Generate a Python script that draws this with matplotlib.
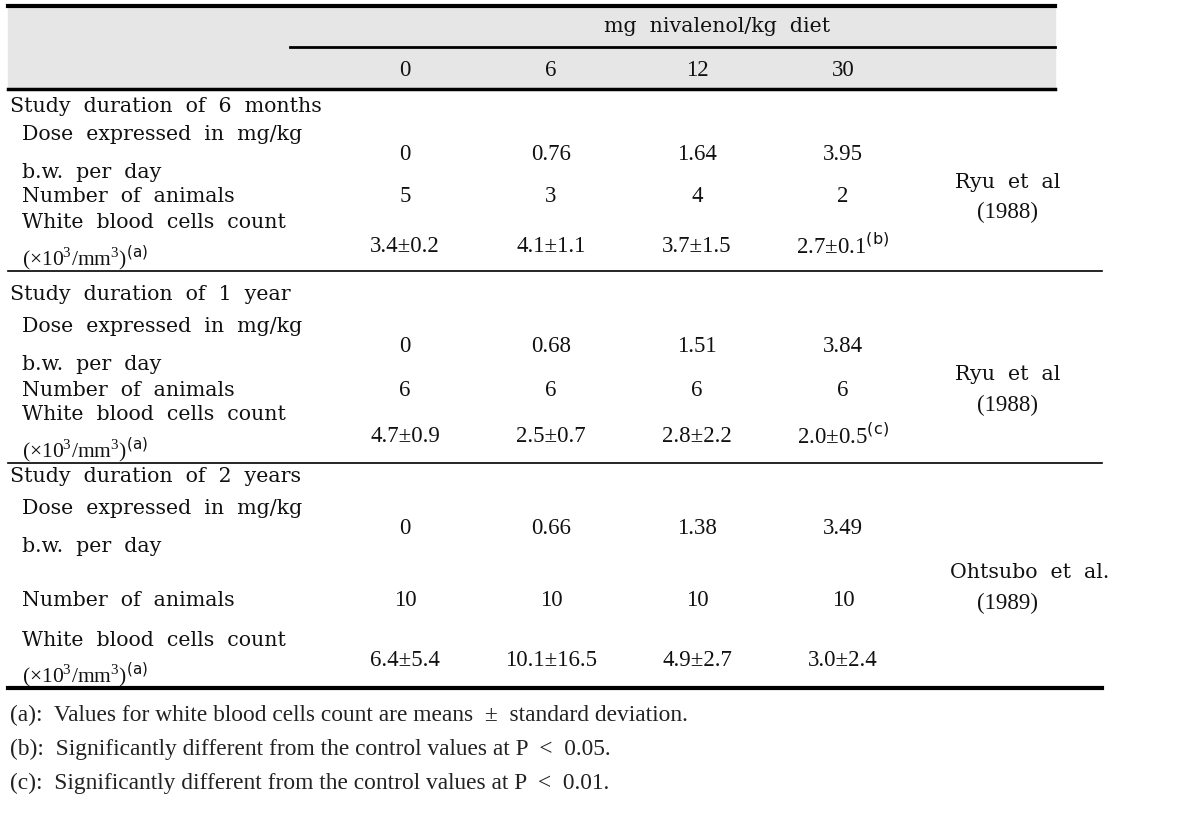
import matplotlib
matplotlib.use("Agg")
import matplotlib.pyplot as plt

# ─── table content ────────────────────────────────────────────────────────────

header_title = "mg  nivalenol/kg  diet"
diet_levels = ["0", "6", "12", "30"]

section_titles = [
    "Study  duration  of  6  months",
    "Study  duration  of  1  year",
    "Study  duration  of  2  years",
]
dose_bw = [
    ["0", "0.76", "1.64", "3.95"],
    ["0", "0.68", "1.51", "3.84"],
    ["0", "0.66", "1.38", "3.49"],
]
n_animals = [
    ["5", "3", "4", "2"],
    ["6", "6", "6", "6"],
    ["10", "10", "10", "10"],
]
wbc_count = [
    ["3.4±0.2", "4.1±1.1", "3.7±1.5", r"2.7±0.1$^{\mathsf{(b)}}$"],
    ["4.7±0.9", "2.5±0.7", "2.8±2.2", r"2.0±0.5$^{\mathsf{(c)}}$"],
    ["6.4±5.4", "10.1±16.5", "4.9±2.7", "3.0±2.4"],
]
references = [
    ("Ryu  et  al", "(1988)"),
    ("Ryu  et  al", "(1988)"),
    ("Ohtsubo  et  al.", "(1989)"),
]
footnotes = [
    "(a):  Values for white blood cells count are means  ±  standard deviation.",
    "(b):  Significantly different from the control values at P  <  0.05.",
    "(c):  Significantly different from the control values at P  <  0.01.",
]

# ─── layout (pixels, y grows downward) ────────────────────────────────────────

W, H = 1177, 818
col_x = [405, 551, 697, 843]
ref_x = [1008, 1008, 1030]
# title, dose label, bw label, dose vals, n row, wbc label, unit label, wbc vals, ref1, ref2, rule
rows = [
    [107, 135, 172, 154, 197, 222, 258, 246, 183, 212, 271],
    [294, 326, 364, 346, 390, 414, 450, 436, 375, 405, 463],
    [476, 508, 547, 528, 600, 640, 675, 660, 573, 603, 688],
]

plt.rcParams["mathtext.fontset"] = "custom"
plt.rcParams["mathtext.rm"] = "Liberation Serif"
plt.rcParams["mathtext.sf"] = "DejaVu Sans"

BODY = dict(family="DejaVu Serif", fontsize=14.8, color="#111111")
NUM = dict(family="Liberation Serif", fontsize=16.5, color="#111111")
FOOT = dict(family="Liberation Serif", fontsize=16.8, color="#222222")

fig = plt.figure(figsize=(W / 100, H / 100), dpi=100)
ax = fig.add_axes([0, 0, 1, 1])
ax.set_xlim(0, W)
ax.set_ylim(H, 0)
ax.axis("off")

# header band
ax.fill_between([8, 1055], 6, 89, color="#e6e6e6", zorder=0)
ax.plot([8, 1055], [6, 6], color="black", lw=3)
ax.plot([290, 1055], [47, 47], color="black", lw=2)
ax.plot([8, 1055], [89, 89], color="black", lw=2.5)
ax.text(717, 27, header_title, ha="center", va="center", **BODY)
for x, lvl in zip(col_x, diet_levels):
    ax.text(x, 70, lvl, ha="center", va="center", **NUM)

for i, r in enumerate(rows):
    ax.text(10, r[0], section_titles[i], ha="left", va="center", **BODY)
    ax.text(22, r[1], "Dose  expressed  in  mg/kg", ha="left", va="center", **BODY)
    ax.text(22, r[2], "b.w.  per  day", ha="left", va="center", **BODY)
    ax.text(22, r[4], "Number  of  animals", ha="left", va="center", **BODY)
    ax.text(22, r[5], "White  blood  cells  count", ha="left", va="center", **BODY)
    ax.text(22, r[6], r"(×10$^3$/mm$^3$)$^{\mathsf{(a)}}$", ha="left", va="center",
            family="Liberation Serif", fontsize=15.5, color="#111111")
    for j, x in enumerate(col_x):
        ax.text(x, r[3], dose_bw[i][j], ha="center", va="center", **NUM)
        ax.text(x, r[4], n_animals[i][j], ha="center", va="center", **NUM)
        ax.text(x, r[7], wbc_count[i][j], ha="center", va="center", **NUM)
    ax.text(ref_x[i], r[8], references[i][0], ha="center", va="center", **BODY)
    ax.text(1008, r[9], references[i][1], ha="center", va="center", **NUM)
    last = i == len(rows) - 1
    ax.plot([8, 1102], [r[10], r[10]], color="black", lw=3 if last else 1.2)

for k, note in enumerate(footnotes):
    ax.text(10, 715 + 34 * k, note, ha="left", va="center", **FOOT)

fig.savefig("out.png", dpi=100)
